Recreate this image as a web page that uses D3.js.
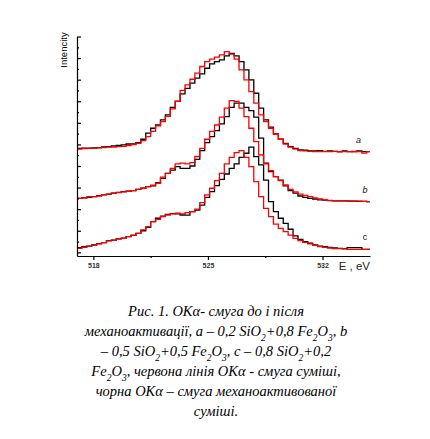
<!DOCTYPE html>
<html>
<head>
<meta charset="utf-8">
<script src="https://cdn.jsdelivr.net/npm/d3@7"></script>
<style>
    body { margin: 0; background: #fff; }
    svg { display: block; }
</style>
</head>
<body>
<div id="chart"></div>
<script>
// energy grid (eV), shared by all six spectra
const energy = [517.0, 517.3, 517.6, 517.9, 518.2, 518.5, 518.8, 519.1, 519.4, 519.7,
    520.0, 520.3, 520.6, 520.9, 521.2, 521.5, 521.8, 522.1, 522.4, 522.7,
    523.0, 523.3, 523.6, 523.9, 524.2, 524.5, 524.8, 525.1, 525.4, 525.7,
    526.0, 526.3, 526.6, 526.9, 527.2, 527.5, 527.8, 528.1, 528.4, 528.7,
    529.0, 529.3, 529.6, 529.9, 530.2, 530.5, 530.8, 531.1, 531.4, 531.7,
    532.0, 532.3, 532.6, 532.9, 533.2, 533.5, 533.8, 534.1, 534.4, 534.7, 534.9];

// a: 0.2 SiO2 + 0.8 Fe2O3
const redA = [4.78, 4.81, 4.82, 4.82, 4.84, 4.85, 4.87, 4.88, 4.90, 4.91,
    4.95, 4.99, 5.05, 5.18, 5.36, 5.60, 5.86, 6.06, 6.30, 6.65,
    7.00, 7.50, 7.76, 8.02, 8.30, 8.61, 8.84, 8.95, 9.04, 9.15,
    9.30, 9.18, 8.95, 8.45, 7.99, 7.45, 6.91, 6.37, 6.06, 5.75,
    5.47, 5.24, 5.02, 4.87, 4.78, 4.71, 4.70, 4.68, 4.67, 4.67,
    4.67, 4.67, 4.68, 4.66, 4.67, 4.67, 4.66, 4.67, 4.60, 4.67, 4.67];
const blackA = [4.82, 4.83, 4.83, 4.84, 4.85, 4.88, 4.90, 4.93, 4.95, 4.98,
    5.02, 5.02, 5.08, 5.24, 5.52, 5.75, 5.90, 6.14, 6.37, 6.72,
    6.99, 7.34, 7.60, 7.84, 8.07, 8.27, 8.53, 8.73, 8.84, 8.92,
    9.10, 9.22, 9.10, 8.84, 8.45, 7.99, 7.37, 6.68, 6.14, 5.80,
    5.49, 5.24, 5.05, 4.90, 4.82, 4.75, 4.73, 4.70, 4.70, 4.71,
    4.68, 4.70, 4.68, 4.67, 4.70, 4.67, 4.68, 4.70, 4.67, 4.67, 4.67];

// b: 0.5 SiO2 + 0.5 Fe2O3
const redB = [2.50, 2.53, 2.58, 2.58, 2.61, 2.67, 2.70, 2.74, 2.77, 2.80,
    2.83, 2.86, 2.92, 2.97, 3.04, 3.11, 3.20, 3.48, 3.66, 3.89,
    4.10, 4.13, 4.10, 4.16, 4.44, 4.82, 5.24, 5.60, 5.90, 6.26,
    6.68, 7.03, 6.99, 6.68, 6.29, 5.75, 5.13, 4.51, 4.10, 3.79,
    3.51, 3.32, 3.12, 2.92, 2.80, 2.70, 2.64, 2.58, 2.52, 2.47,
    2.43, 2.41, 2.40, 2.39, 2.38, 2.38, 2.37, 2.37, 2.36, 2.35, 2.35];
const blackB = [2.50, 2.52, 2.55, 2.58, 2.63, 2.66, 2.70, 2.74, 2.78, 2.81,
    2.83, 2.86, 2.92, 2.97, 3.04, 3.08, 3.23, 3.43, 3.66, 3.81,
    3.97, 3.89, 3.89, 4.00, 4.31, 4.71, 5.08, 5.36, 5.64, 5.95,
    6.29, 6.72, 6.91, 6.91, 6.72, 6.57, 6.26, 5.29, 4.13, 3.74,
    3.51, 3.35, 3.08, 2.86, 2.74, 2.61, 2.55, 2.50, 2.47, 2.43,
    2.42, 2.40, 2.39, 2.38, 2.38, 2.37, 2.37, 2.36, 2.36, 2.35, 2.35];

// c: 0.8 SiO2 + 0.2 Fe2O3
const redC = [0.19, 0.23, 0.29, 0.32, 0.39, 0.45, 0.53, 0.57, 0.62, 0.65,
    0.73, 0.80, 0.88, 1.04, 1.19, 1.42, 1.53, 1.65, 1.73, 1.78,
    1.81, 1.78, 1.84, 1.89, 2.00, 2.30, 2.66, 2.97, 3.32, 3.66,
    4.10, 4.40, 4.62, 4.71, 4.40, 3.97, 3.28, 2.58, 2.04, 1.65,
    1.31, 1.11, 0.96, 0.80, 0.65, 0.54, 0.46, 0.39, 0.32, 0.26,
    0.23, 0.20, 0.17, 0.17, 0.16, 0.14, 0.14, 0.14, 0.14, 0.14, 0.14];
const blackC = [0.22, 0.26, 0.29, 0.34, 0.40, 0.45, 0.54, 0.57, 0.62, 0.66,
    0.73, 0.79, 0.88, 1.00, 1.16, 1.42, 1.58, 1.68, 1.76, 1.79,
    1.78, 1.73, 1.72, 1.89, 1.96, 2.19, 2.55, 2.81, 3.09, 3.38,
    3.63, 3.89, 4.10, 4.40, 4.59, 4.87, 4.43, 4.05, 3.35, 2.35,
    1.89, 1.58, 1.34, 1.07, 0.76, 0.60, 0.49, 0.42, 0.34, 0.29,
    0.26, 0.23, 0.20, 0.18, 0.17, 0.22, 0.22, 0.22, 0.14, 0.14, 0.14];

// axis ticks
const xMajorTicks = [518, 525, 532];
const xMinorTicks = [521.5, 528.5];
const yMajorTicks = [0, 1, 2, 3, 4, 5, 6, 7, 8, 9, 10];
const yMinorTicks = [0.5, 1.5, 2.5, 3.5, 4.5, 5.5, 6.5, 7.5, 8.5, 9.5];

// curve labels and where they sit (eV, intensity)
const curveLabels = [
    { text: 'a', e: 534.2, v: 5.05, italic: true },
    { text: 'b', e: 534.6, v: 2.75, italic: true },
    { text: 'c', e: 534.6, v: 0.55, italic: false }
];

// figure caption, "_" marks a subscript digit
const captionLines = [
    'Рис. 1. OKα- смуга до і після',
    'механоактивації, a – 0,2 SiO_2+0,8 Fe_2O_3, b',
    '– 0,5 SiO_2+0,5 Fe_2O_3, c – 0,8 SiO_2+0,2',
    'Fe_2O_3, червона лінія OKα - смуга суміші,',
    'чорна OKα – смуга механоактивованої',
    'суміші.'
];

const width = 430;
const height = 439;

const svg = d3.select('#chart')
    .append('svg')
    .attr('width', width)
    .attr('height', height);

// scales fitted to the plot box of the reference
const x = d3.scaleLinear().domain([517, 534.9]).range([77, 370]);
const y = d3.scaleLinear().domain([-0.17, 10]).range([256, 36.5]);

// spectra: black (mechanoactivated) underneath, red (mixture) on top
const series = [
    { values: blackA, color: '#000' },
    { values: blackB, color: '#000' },
    { values: blackC, color: '#000' },
    { values: redA, color: '#f00' },
    { values: redB, color: '#f00' },
    { values: redC, color: '#f00' }
];

const line = d3.line()
    .x(d => x(d[0]))
    .y(d => y(d[1]))
    .curve(d3.curveStepAfter);

svg.append('g')
    .selectAll('path')
    .data(series)
    .enter()
    .append('path')
    .attr('d', s => line(energy.map((e, i) => [e, s.values[i]])))
    .style('fill', 'none')
    .style('stroke', s => s.color)
    .style('stroke-width', 1.3);

// x axis: major ticks with labels, minor without
const xAxis = svg.append('g')
    .attr('transform', `translate(0,${y(-0.17)})`)
    .call(d3.axisBottom(x).tickValues(xMajorTicks).tickSize(4).tickSizeOuter(0));
xAxis.selectAll('text')
    .attr('dy', null)
    .attr('y', 12)
    .style('font', 'bold 7px Arial, "Liberation Sans", sans-serif')
    .style('fill', '#333');
svg.append('g')
    .attr('transform', `translate(0,${y(-0.17)})`)
    .call(d3.axisBottom(x).tickValues(xMinorTicks).tickSize(2).tickSizeOuter(0).tickFormat(''))
    .select('.domain').remove();

// y axis: ticks point inward, no labels
svg.append('g')
    .attr('transform', `translate(${x(517)},0)`)
    .call(d3.axisLeft(y).tickValues(yMajorTicks).tickSize(-4).tickSizeOuter(0).tickFormat(''));
svg.append('g')
    .attr('transform', `translate(${x(517)},0)`)
    .call(d3.axisLeft(y).tickValues(yMinorTicks).tickSize(-2).tickSizeOuter(0).tickFormat(''))
    .select('.domain').remove();

svg.selectAll('.domain, .tick line')
    .style('stroke', '#000')
    .style('stroke-width', 1.2);

// axis titles
svg.append('text')
    .attr('transform', 'translate(67,50) rotate(-90)')
    .attr('text-anchor', 'middle')
    .style('font', '9.5px Arial, "Liberation Sans", sans-serif')
    .style('fill', '#000')
    .text('Intencity');

svg.append('text')
    .attr('x', 370)
    .attr('y', 270)
    .attr('text-anchor', 'end')
    .style('font', '11.5px Arial, "Liberation Sans", sans-serif')
    .style('fill', '#222')
    .text('E , eV');

// a, b, c labels next to the tails
svg.selectAll('.curve-label')
    .data(curveLabels)
    .enter()
    .append('text')
    .attr('class', 'curve-label')
    .attr('x', d => x(d.e))
    .attr('y', d => y(d.v))
    .attr('text-anchor', 'middle')
    .style('font-family', 'Arial, "Liberation Sans", sans-serif')
    .style('font-size', '9px')
    .style('font-style', d => d.italic ? 'italic' : 'normal')
    .style('fill', '#111')
    .text(d => d.text);

// caption under the chart, subscripts as tspans
const caption = svg.append('g')
    .style('font', 'italic 14.5px "Liberation Serif", "DejaVu Serif", serif')
    .style('fill', '#000');

captionLines.forEach((lineText, i) => {
    const t = caption.append('text')
        .attr('x', 216)
        .attr('y', 316 + i * 20)
        .attr('text-anchor', 'middle');
    lineText.split(/(_\d)/).forEach(part => {
        if (!part) return;
        if (part[0] === '_') {
            t.append('tspan')
                .attr('baseline-shift', 'sub')
                .style('font-size', '9.5px')
                .text(part.slice(1));
        } else {
            t.append('tspan').text(part);
        }
    });
});
</script>
</body>
</html>
